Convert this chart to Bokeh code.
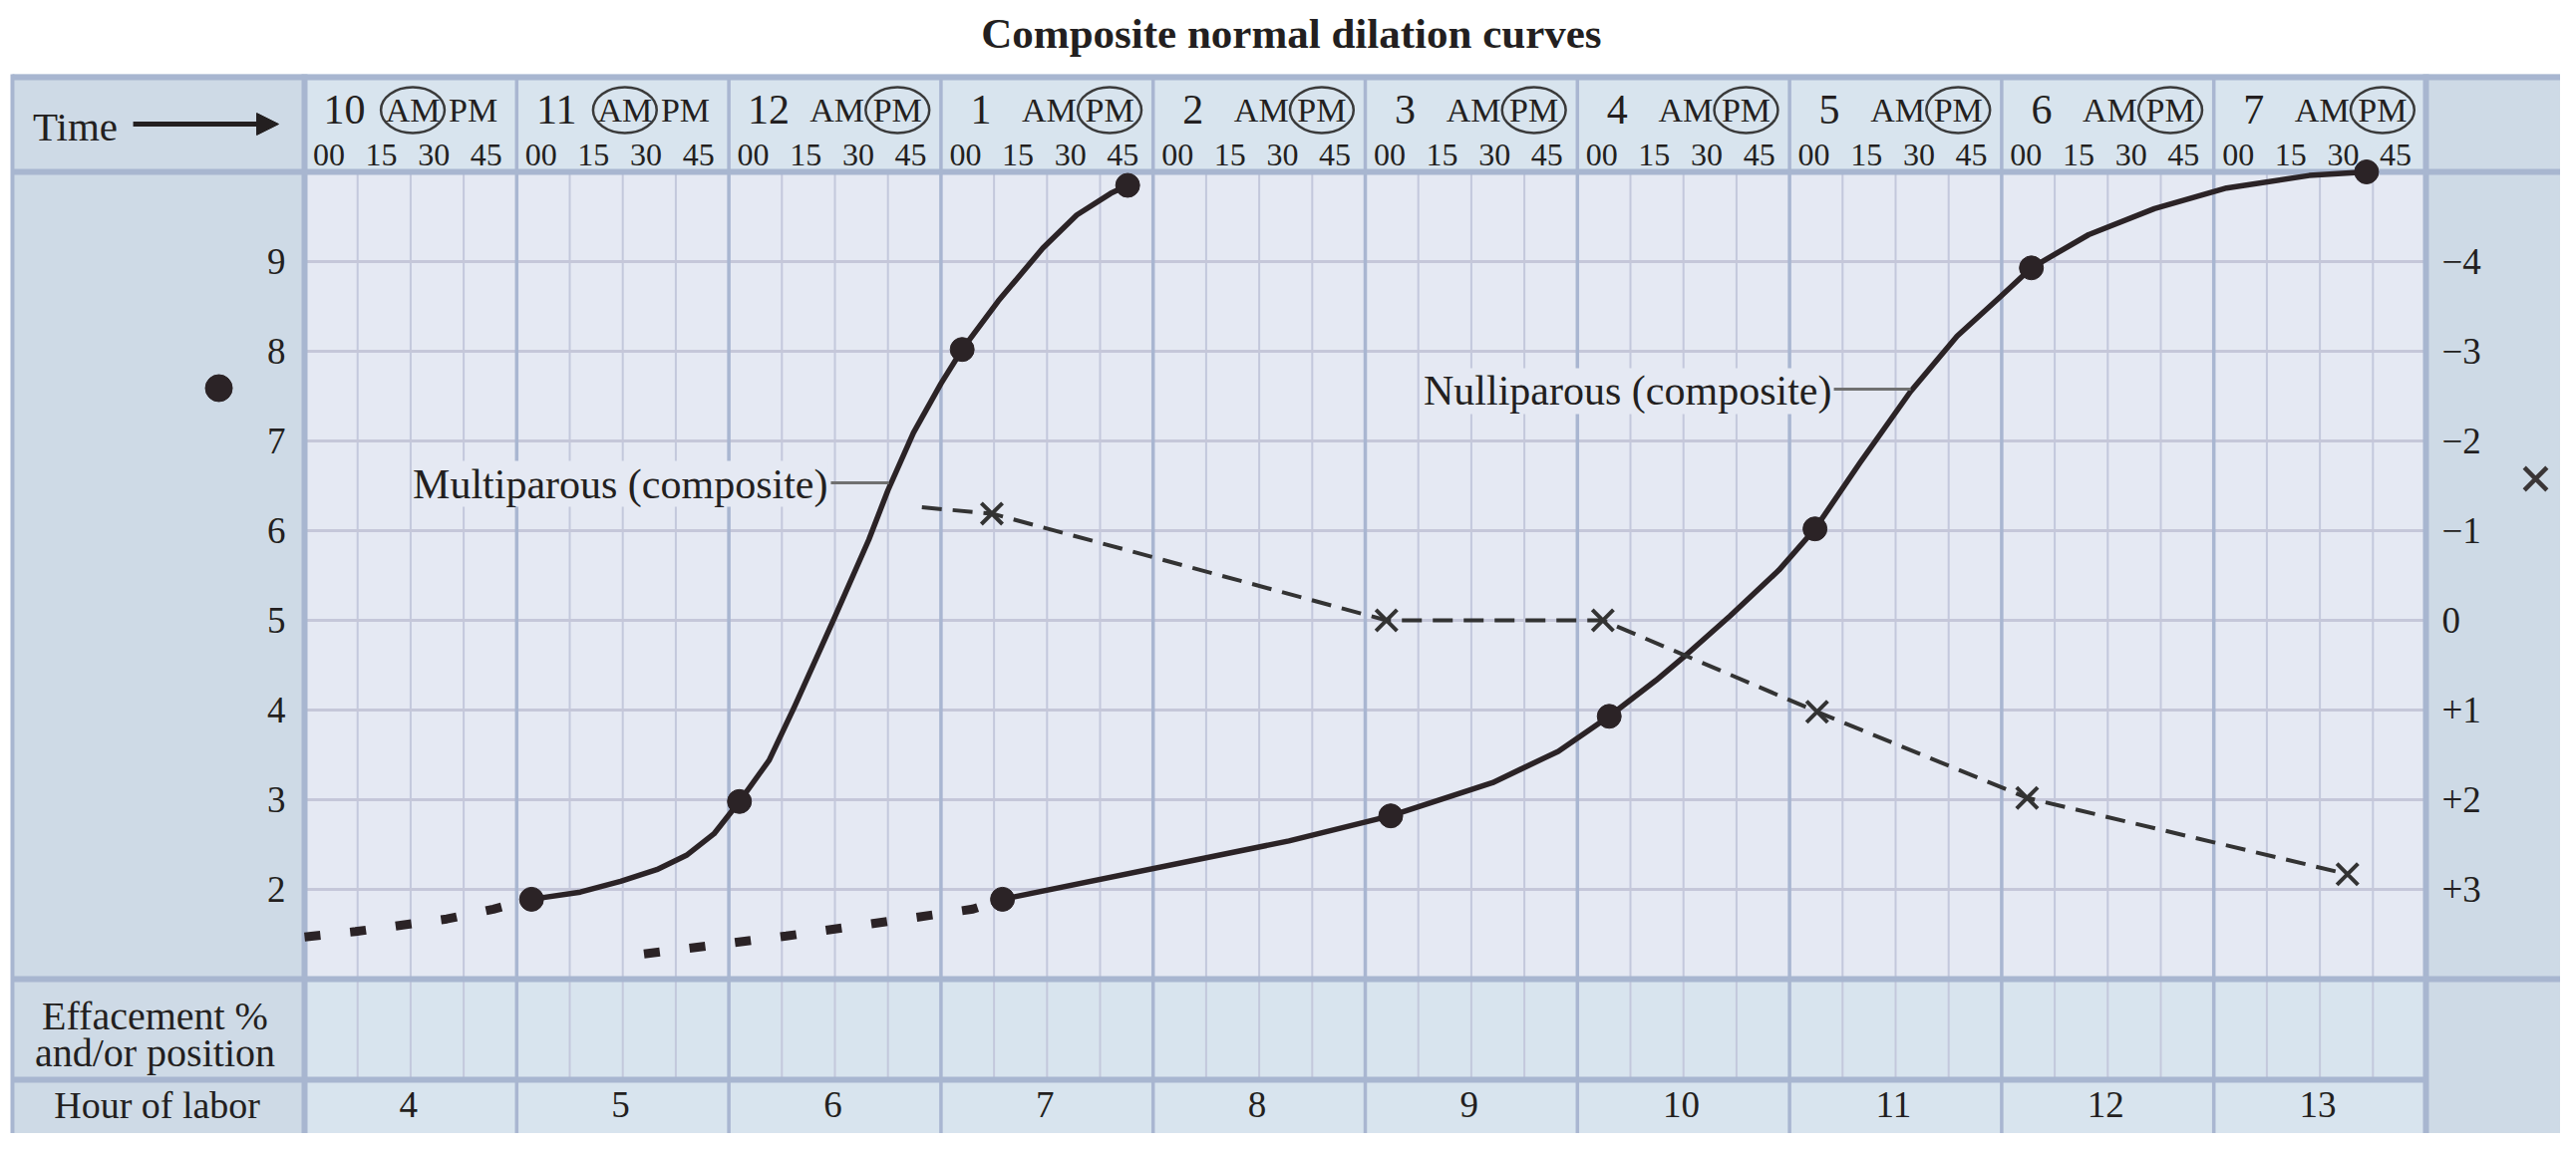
import numpy as np
from bokeh.plotting import figure
from bokeh.models import Range1d, Label, Arrow, NormalHead
from bokeh.core.properties import value
from bokeh.embed import file_html
from bokeh.resources import INLINE

# ---------------- data ----------------
clock_hours = ["10", "11", "12", "1", "2", "3", "4", "5", "6", "7"]
circled_meridiem = ["AM", "AM", "PM", "PM", "PM", "PM", "PM", "PM", "PM", "PM"]
minute_labels = ["00", "15", "30", "45"]
hour_of_labor = ["4", "5", "6", "7", "8", "9", "10", "11", "12", "13"]
dilation_ticks = [2, 3, 4, 5, 6, 7, 8, 9]
station_ticks = [-4, -3, -2, -1, 0, 1, 2, 3]
station_tick_labels = ["\u22124", "\u22123", "\u22122", "\u22121", "0", "+1", "+2", "+3"]

# x: hours after 10:00 AM ; y: cervical dilation (cm)
multi_latent_x = [0.0, 0.24, 0.67, 0.89, 1.07]
multi_latent_y = [1.47, 1.53, 1.67, 1.78, 1.89]
multi_active_x = [1.07, 1.30, 1.49, 1.66, 1.80, 1.93, 2.05, 2.19, 2.31, 2.43, 2.50, 2.66,
                  2.75, 2.87, 3.00, 3.10, 3.27, 3.48, 3.64, 3.80, 3.88]
multi_active_y = [1.89, 1.97, 2.09, 2.22, 2.38, 2.62, 2.98, 3.44, 4.04, 4.67, 5.04, 5.90,
                  6.45, 7.09, 7.64, 8.02, 8.56, 9.15, 9.52, 9.76, 9.85]
multi_dot_x = [1.07, 2.05, 3.10, 3.88]
multi_dot_y = [1.89, 2.98, 8.02, 9.85]

nulli_latent_x = [1.60, 2.27, 3.15, 3.29]
nulli_latent_y = [1.28, 1.48, 1.78, 1.89]
nulli_active_x = [3.29, 4.64, 5.12, 5.60, 5.91, 6.15, 6.37, 6.52, 6.72, 6.95, 7.12,
                  7.33, 7.57, 7.79, 7.99, 8.14, 8.41, 8.72, 9.06, 9.45, 9.72]
nulli_active_y = [1.89, 2.54, 2.82, 3.19, 3.54, 3.93, 4.33, 4.63, 5.05, 5.56, 6.02,
                  6.75, 7.55, 8.17, 8.60, 8.93, 9.30, 9.59, 9.82, 9.96, 10.0]
nulli_dot_x = [3.29, 5.12, 6.15, 7.12, 8.14, 9.72]
nulli_dot_y = [1.89, 2.82, 3.93, 6.02, 8.93, 10.0]

# multiparous station (right scale)
multi_station_x = [2.91, 3.24, 5.10, 6.12, 7.13, 8.12, 9.63]
multi_station_y = [-1.26, -1.19, 0.0, 0.0, 1.02, 1.98, 2.83]
multi_station_mark_x = [3.24, 5.10, 6.12, 7.13, 8.12, 9.63]
multi_station_mark_y = [-1.19, 0.0, 0.0, 1.02, 1.98, 2.83]

# ---------------- layout / style ----------------
X_LEFT, X_RIGHT = -1.4333, 10.6344
Y_BOTTOM, Y_TOP = -0.7222, 11.9111
TABLE_LEFT = -1.377
TABLE_TOP = 11.089
TOP_BAND = 11.056
HEADER_BOTTOM = 10.0
PLOT_BOTTOM = 1.0
EFF_BOTTOM = -0.122

PLOT_BG = "#e5e9f3"
CELL_BG = "#d8e4ee"
SIDE_BG = "#cedae6"
BAND = "#a8b6d0"
MAJOR = "#a9b6d1"
MINOR = "#c3c8dc"
HGRID = "#c5c7d9"
INK = "#231f20"
CURVE = "#2b2326"
FONT = value("Liberation Serif")

p = figure(width=2568, height=1137, x_range=Range1d(X_LEFT, X_RIGHT),
           y_range=Range1d(Y_BOTTOM, Y_TOP), output_backend="svg",
           toolbar_location=None, x_axis_location=None, y_axis_location=None,
           title=None, min_border=0)
p.grid.visible = False
p.outline_line_color = None
p.background_fill_color = "white"
p.border_fill_color = "white"
p.extra_y_ranges = {"station": Range1d(start=5 - Y_BOTTOM, end=5 - Y_TOP)}

# backgrounds
p.quad(left=[TABLE_LEFT, 10], right=[0, X_RIGHT], bottom=[Y_BOTTOM, Y_BOTTOM],
       top=[TABLE_TOP, TABLE_TOP], fill_color=SIDE_BG, line_color=None)
p.quad(left=[0, 0, 0], right=[10, 10, 10], bottom=[HEADER_BOTTOM, EFF_BOTTOM, Y_BOTTOM],
       top=[TABLE_TOP, PLOT_BOTTOM, EFF_BOTTOM], fill_color=CELL_BG, line_color=None)
p.quad(left=[0], right=[10], bottom=[PLOT_BOTTOM], top=[HEADER_BOTTOM],
       fill_color=PLOT_BG, line_color=None)

cols = np.arange(len(clock_hours))

# grid lines
minor_x = [c + m * 0.25 for c in cols for m in (1, 2, 3)]
p.segment(x0=minor_x, y0=[EFF_BOTTOM] * len(minor_x), x1=minor_x,
          y1=[HEADER_BOTTOM] * len(minor_x), line_color=MINOR, line_width=2)
p.segment(x0=[0] * len(dilation_ticks), y0=dilation_ticks, x1=[10] * len(dilation_ticks),
          y1=dilation_ticks, line_color=HGRID, line_width=3)
major_x = list(cols[1:])
p.segment(x0=major_x, y0=[Y_BOTTOM] * len(major_x), x1=major_x,
          y1=[TOP_BAND] * len(major_x), line_color=MAJOR, line_width=3.5)

# table bands
p.segment(x0=[TABLE_LEFT, TABLE_LEFT, TABLE_LEFT, TABLE_LEFT],
          y0=[TOP_BAND, HEADER_BOTTOM, PLOT_BOTTOM, EFF_BOTTOM],
          x1=[X_RIGHT, X_RIGHT, X_RIGHT, 10],
          y1=[TOP_BAND, HEADER_BOTTOM, PLOT_BOTTOM, EFF_BOTTOM],
          line_color=BAND, line_width=6)
p.segment(x0=[TABLE_LEFT, 0, 10], y0=[Y_BOTTOM] * 3, x1=[TABLE_LEFT, 0, 10],
          y1=[TABLE_TOP] * 3, line_color=BAND, line_width=[4, 6, 6])

# header texts
HDR_Y = 10.689
MIN_Y = 10.194
p.text(x=cols + 0.188, y=[HDR_Y] * 10, text=clock_hours, text_font=FONT,
       text_font_size=value("42px"), text_align="center", text_baseline="middle",
       text_color=INK)
p.text(x=cols + 0.51, y=[HDR_Y] * 10, text=["AM"] * 10, text_font=FONT,
       text_font_size=value("34px"), text_align="center", text_baseline="middle",
       text_color=INK)
p.text(x=cols + 0.795, y=[HDR_Y] * 10, text=["PM"] * 10, text_font=FONT,
       text_font_size=value("34px"), text_align="center", text_baseline="middle",
       text_color=INK)
circ_x = [c + (0.51 if m == "AM" else 0.795) for c, m in zip(cols, circled_meridiem)]
p.ellipse(x=circ_x, y=[HDR_Y] * 10, width=0.30, height=0.51, fill_color=None,
          line_color="#3a3a3a", line_width=2.5)
min_offsets = [0.115, 0.362, 0.61, 0.857]
min_x = [c + o for c in cols for o in min_offsets]
min_t = [minute_labels[i] for c in cols for i in range(4)]
p.text(x=min_x, y=[MIN_Y] * len(min_x), text=min_t, text_font=FONT,
       text_font_size=value("32px"), text_align="center", text_baseline="middle",
       text_color=INK)

# side labels
p.text(x=[-1.081], y=[10.511], text=["Time"], text_font=FONT,
       text_font_size=value("41px"), text_align="center", text_baseline="middle",
       text_color=INK)
p.add_layout(Arrow(end=NormalHead(size=22, fill_color=INK, line_color=INK),
                   x_start=-0.808, y_start=10.533, x_end=-0.122, y_end=10.533,
                   line_width=5, line_color=INK))
p.text(x=[-0.705, -0.705], y=[0.589, 0.178],
       text=["Effacement %", "and/or position"], text_font=FONT,
       text_font_size=value("40px"), text_align="center", text_baseline="middle",
       text_color=INK)
LABOR_Y = -0.40
p.text(x=[-0.695], y=[LABOR_Y], text=["Hour of labor"], text_font=FONT,
       text_font_size=value("38px"), text_align="center", text_baseline="middle",
       text_color=INK)
p.text(x=cols + 0.49, y=[LABOR_Y] * 10, text=hour_of_labor, text_font=FONT,
       text_font_size=value("37px"), text_align="center", text_baseline="middle",
       text_color=INK)

# axis tick labels
p.text(x=[-0.089] * len(dilation_ticks), y=dilation_ticks,
       text=[str(t) for t in dilation_ticks], text_font=FONT, text_font_size=value("37px"),
       text_align="right", text_baseline="middle", text_color=INK)
p.text(x=[10.075] * len(station_ticks), y=station_ticks,
       text=station_tick_labels, text_font=FONT, text_font_size=value("37px"),
       text_align="left", text_baseline="middle", text_color=INK, y_range_name="station")
p.scatter(x=[-0.404], y=[7.589], marker="circle", size=27, color=CURVE)
p.scatter(x=[10.517], y=[6.578], marker="x", size=32, line_width=4.5, line_color="#3a3536")

# title
p.text(x=[4.652], y=[11.544], text=["Composite normal dilation curves"],
       text_font=FONT, text_font_size=value("43px"), text_font_style="bold",
       text_align="center", text_baseline="middle", text_color=INK)

# curves
p.line(multi_latent_x, multi_latent_y, line_color=CURVE, line_width=9, line_dash="16 30")
p.line(nulli_latent_x, nulli_latent_y, line_color=CURVE, line_width=9, line_dash="16 30")
p.line(multi_active_x, multi_active_y, line_color=CURVE, line_width=5.5, line_join="round")
p.line(nulli_active_x, nulli_active_y, line_color=CURVE, line_width=5.5, line_join="round")
p.scatter(multi_dot_x, multi_dot_y, marker="circle", size=24, color=CURVE)
p.scatter(nulli_dot_x, nulli_dot_y, marker="circle", size=24, color=CURVE)
p.line(multi_station_x, multi_station_y, line_color="#333", line_width=4,
       line_dash="20 11", y_range_name="station")
p.scatter(multi_station_mark_x, multi_station_mark_y, marker="x", size=30, line_width=4,
          line_color="#333", y_range_name="station")

# curve labels with leaders
p.segment(x0=[2.481, 7.209], y0=[6.533, 7.578], x1=[2.755, 7.571], y1=[6.533, 7.578],
          line_color="#707070", line_width=3)
p.add_layout(Label(x=2.467, y=6.522, text="Multiparous (composite)",
                   text_align="right", text_baseline="middle",
                   text_font="Liberation Serif", text_font_size="42px", text_color=INK,
                   background_fill_color=PLOT_BG))
p.add_layout(Label(x=7.199, y=7.556, text="Nulliparous (composite)",
                   text_align="right", text_baseline="middle",
                   text_font="Liberation Serif", text_font_size="42px", text_color=INK,
                   background_fill_color=PLOT_BG))

open("out.html", "w").write(file_html(p, INLINE))
